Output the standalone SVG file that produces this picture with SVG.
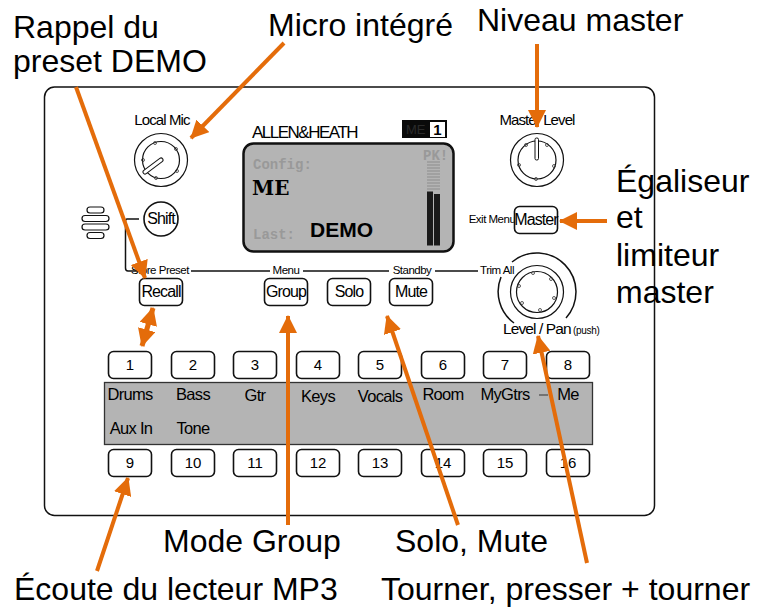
<svg xmlns="http://www.w3.org/2000/svg" width="764" height="609" viewBox="0 0 764 609">
<style>
text{font-family:"Liberation Sans",Arial,sans-serif;fill:#000}
.lab{font-size:32px}
.btn{fill:#fff;stroke:#111;stroke-width:1.6}
.bt{font-size:16px;text-anchor:middle;letter-spacing:-.9px}
.num{font-size:15px;text-anchor:middle}
.ch{font-size:16.500px;text-anchor:middle;letter-spacing:-.7px}
.sm{font-size:11.500px;text-anchor:middle;letter-spacing:-.5px}
.kl{font-size:15px;text-anchor:middle;letter-spacing:-.9px}
.k{fill:none;stroke:#111;stroke-width:1.200}
.dot{fill:none;stroke:#333;stroke-width:.8}
.ln{fill:none;stroke:#111;stroke-width:1.500}
.mono{font-family:"Liberation Mono",monospace;font-weight:bold;font-size:14px;fill:#999}
.slab{font-family:"DejaVu Serif",serif;font-weight:bold;font-size:20px}
.conn line{stroke:#e46c0a;stroke-width:4;marker-end:url(#a)}
.seg{stroke:#8c8c8c;stroke-width:1}
</style>
<defs>
<marker id="a" markerUnits="userSpaceOnUse" markerWidth="20" markerHeight="18" refX="17" refY="9" orient="auto-start-reverse"><path d="M0 0L18 9L0 18Z" fill="#e46c0a"/></marker>
</defs>
<rect width="764" height="609" fill="#fff"/>
<rect id="panel" x="44.500" y="87" width="610" height="428.500" rx="10" fill="#fff" stroke="#111" stroke-width="1.500"/>

<g id="speaker" class="k"><rect x="87" y="207" width="17" height="6" rx="3"/><rect x="82" y="215.500" width="27" height="6" rx="3"/><rect x="82" y="224" width="27" height="6" rx="3"/><rect x="87" y="232.500" width="17" height="6" rx="3"/></g>

<g id="trim-lines" class="ln"><path d="M139 219H127Q125.500 219 125.500 221V268Q125.500 271 128 271H142"/><path d="M191 271H270M303 271H389M435 271H478"/></g>

<g id="local-mic"><text class="kl" x="162" y="125">Local Mic</text><circle class="k" cx="161" cy="160" r="26.500"/><circle class="k" cx="161" cy="160" r="18.500"/><g class="dot"><circle cx="155" cy="143" r="1.500"/><circle cx="176" cy="149" r="1.500"/><circle cx="177" cy="171" r="1.500"/><circle cx="156" cy="178" r="1.500"/><circle cx="143" cy="160" r="1.500"/></g><path d="M145 172L161 160" stroke="#111" stroke-width="5" stroke-linecap="round"/><path d="M145 172L161 160" stroke="#fff" stroke-width="3" stroke-linecap="round"/></g>
<g id="shift"><circle cx="161" cy="219" r="17" fill="#fff" stroke="#111" stroke-width="1.600"/><text class="bt" x="161" y="224">Shift</text></g>

<g id="logo"><text x="252" y="138" font-size="17" letter-spacing="-1.500">ALLEN&amp;HEATH</text><rect x="402" y="120" width="45" height="18" fill="#0a0a0a"/><text x="406" y="134" font-size="13" style="fill:#2a2a2a">ME</text><rect x="430" y="122" width="15" height="15" fill="#fff"/><text x="437.500" y="135" font-size="15" font-weight="bold" text-anchor="middle">1</text></g>

<g id="lcd"><rect x="243.500" y="143.500" width="210" height="108" rx="10" fill="#b4b4b4" stroke="#111" stroke-width="2.500"/>
<text class="mono" x="253" y="169">Config:</text><text class="slab" x="252" y="195">ME</text><text class="mono" x="253" y="239">Last:</text><text x="310" y="237" font-size="21" font-weight="bold">DEMO</text><text class="mono" x="423" y="160">PK!</text>
<g class="seg"><path d="M427 162H440M427 165H440M427 168H440M427 171H440M427 174H440M427 177H440M427 180H440M427 183H440M427 186H440M427 189H440"/></g>
<rect x="427" y="191.500" width="6" height="54" fill="#1a1a1a"/><rect x="434" y="194" width="6" height="51.500" fill="#1a1a1a"/></g>

<g id="master-level"><text class="kl" x="537" y="125">Master Level</text><circle class="k" cx="537" cy="160" r="26.500"/><circle class="k" cx="537" cy="160" r="19"/><g class="dot"><circle cx="526" cy="145" r="1.500"/><circle cx="547" cy="145" r="1.500"/><circle cx="554" cy="166" r="1.500"/><circle cx="536" cy="179" r="1.500"/><circle cx="519" cy="165" r="1.500"/></g><rect x="535" y="138" width="3.500" height="22" rx="1.500" fill="#fff" stroke="#111" stroke-width="1"/></g>
<g id="master"><text class="sm" x="492" y="223">Exit Menu</text><rect class="btn" x="514.500" y="206.500" width="43" height="27" rx="5"/><text class="bt" x="536" y="225">Master</text></g>

<g id="encoder"><text class="sm" x="497" y="274">Trim All</text><circle class="k" cx="537" cy="292" r="26.500"/><circle class="k" cx="537" cy="292" r="20.500"/><g class="dot"><circle cx="533" cy="273" r="1.500"/><circle cx="551" cy="279" r="1.500"/><circle cx="554" cy="298" r="1.500"/><circle cx="540" cy="310" r="1.500"/><circle cx="522" cy="303" r="1.500"/><circle cx="519" cy="286" r="1.500"/></g><path class="ln" d="M514 323A39 39 0 0 1 501 277M512 262A39 39 0 0 1 566 318" stroke-width="1.800"/><text x="503" y="334" font-size="15.500" letter-spacing="-.9">Level / Pan</text><text x="573" y="334" font-size="10" letter-spacing="-.3">(push)</text></g>

<g id="recall"><text class="sm" x="160" y="274">Store Preset</text><rect class="btn" x="139.500" y="278.500" width="43" height="27" rx="5"/><text class="bt" x="161" y="297">Recall</text></g>
<g id="group"><text class="sm" x="286" y="274">Menu</text><rect class="btn" x="264.500" y="278.500" width="43" height="27" rx="5"/><text class="bt" x="286" y="297">Group</text></g>
<g id="solo"><rect class="btn" x="327.500" y="278.500" width="43" height="27" rx="5"/><text class="bt" x="349" y="297">Solo</text></g>
<g id="mute"><text class="sm" x="412" y="274">Standby</text><rect class="btn" x="389.500" y="278.500" width="43" height="27" rx="5"/><text class="bt" x="411" y="297">Mute</text></g>

<g id="strip"><rect x="104.500" y="382.500" width="488" height="62" fill="#b4b4b4" stroke="#333" stroke-width="1.300"/>
<g class="ch"><text x="130" y="400">Drums</text><text x="193" y="400">Bass</text><text x="255" y="401">Gtr</text><text x="318" y="402">Keys</text><text x="380" y="402">Vocals</text><text x="443" y="400">Room</text><text x="505" y="400">MyGtrs</text><text x="568" y="400">Me</text><text x="131" y="434">Aux In</text><text x="193" y="434">Tone</text></g><path d="M539 395H548" stroke="#333" stroke-width="1"/></g>

<g id="btn1"><rect class="btn" x="108.500" y="351.500" width="43" height="27" rx="5"/><text class="num" x="130" y="370">1</text></g>
<g id="btn2"><rect class="btn" x="171.500" y="351.500" width="43" height="27" rx="5"/><text class="num" x="193" y="370">2</text></g>
<g id="btn3"><rect class="btn" x="233.500" y="351.500" width="43" height="27" rx="5"/><text class="num" x="255" y="370">3</text></g>
<g id="btn4"><rect class="btn" x="296.500" y="351.500" width="43" height="27" rx="5"/><text class="num" x="318" y="370">4</text></g>
<g id="btn5"><rect class="btn" x="358.500" y="351.500" width="43" height="27" rx="5"/><text class="num" x="380" y="370">5</text></g>
<g id="btn6"><rect class="btn" x="421.500" y="351.500" width="43" height="27" rx="5"/><text class="num" x="443" y="370">6</text></g>
<g id="btn7"><rect class="btn" x="483.500" y="351.500" width="43" height="27" rx="5"/><text class="num" x="505" y="370">7</text></g>
<g id="btn8"><rect class="btn" x="546.500" y="351.500" width="43" height="27" rx="5"/><text class="num" x="568" y="370">8</text></g>
<g id="btn9"><rect class="btn" x="108.500" y="449.500" width="43" height="27" rx="5"/><text class="num" x="130" y="468">9</text></g>
<g id="btn10"><rect class="btn" x="171.500" y="449.500" width="43" height="27" rx="5"/><text class="num" x="193" y="468">10</text></g>
<g id="btn11"><rect class="btn" x="233.500" y="449.500" width="43" height="27" rx="5"/><text class="num" x="255" y="468">11</text></g>
<g id="btn12"><rect class="btn" x="296.500" y="449.500" width="43" height="27" rx="5"/><text class="num" x="318" y="468">12</text></g>
<g id="btn13"><rect class="btn" x="358.500" y="449.500" width="43" height="27" rx="5"/><text class="num" x="380" y="468">13</text></g>
<g id="btn14"><rect class="btn" x="421.500" y="449.500" width="43" height="27" rx="5"/><text class="num" x="443" y="468">14</text></g>
<g id="btn15"><rect class="btn" x="483.500" y="449.500" width="43" height="27" rx="5"/><text class="num" x="505" y="468">15</text></g>
<g id="btn16"><rect class="btn" x="546.500" y="449.500" width="43" height="27" rx="5"/><text class="num" x="568" y="468">16</text></g>

<g id="connectors" class="conn">
<line x1="76" y1="87" x2="145" y2="278"/>
<line x1="284" y1="43" x2="191" y2="138"/>
<line x1="537" y1="44" x2="537" y2="127"/>
<line x1="607" y1="221" x2="560" y2="221"/>
<line x1="153" y1="308" x2="142" y2="346" style="marker-start:url(#a);stroke-width:5"/>
<line x1="288" y1="525" x2="288" y2="316"/>
<line x1="458" y1="525" x2="387" y2="316"/>
<line x1="587" y1="563" x2="538" y2="336"/>
<line x1="97" y1="571" x2="128" y2="478"/>
</g>

<g id="labels" class="lab">
<text x="13" y="38">Rappel du</text><text x="13" y="72">preset DEMO</text>
<text x="268" y="36">Micro intégré</text>
<text x="477" y="31">Niveau master</text>
<text x="616" y="192">Égaliseur</text><text x="616" y="228">et</text><text x="616" y="266">limiteur</text><text x="616" y="303">master</text>
<text x="163" y="552">Mode Group</text>
<text x="395" y="552">Solo, Mute</text>
<text x="14" y="600">Écoute du lecteur MP3</text>
<text x="381" y="600">Tourner, presser + tourner</text>
</g>
</svg>
